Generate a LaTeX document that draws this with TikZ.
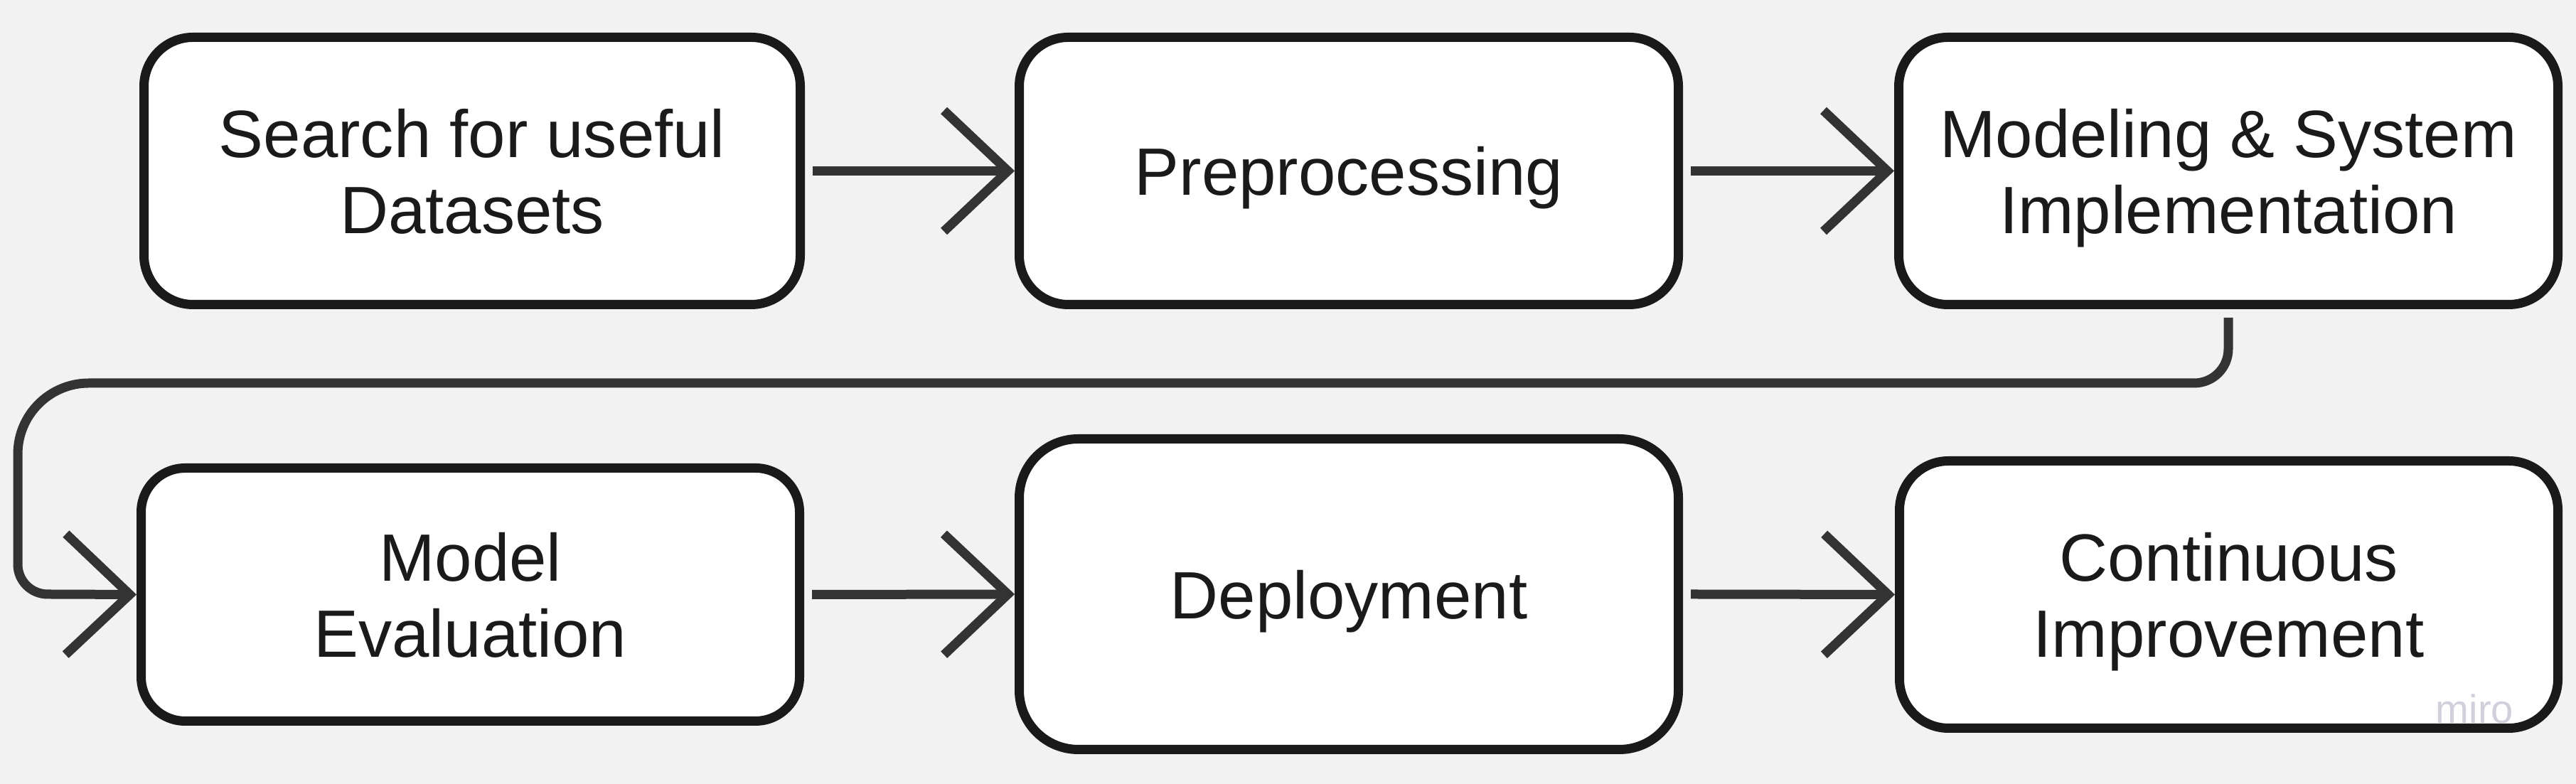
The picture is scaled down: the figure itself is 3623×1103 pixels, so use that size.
\documentclass[tikz,border=0pt]{standalone}
\usepackage{fontspec}
\setmainfont{Liberation Sans}
\usetikzlibrary{arrows.meta}
\definecolor{bgc}{HTML}{F2F2F2}
\definecolor{boxc}{HTML}{1A1A1A}
\definecolor{connc}{HTML}{333333}
\definecolor{txtc}{HTML}{1A1A1A}
\definecolor{miroc}{HTML}{D0D0DC}
\begin{document}
\begin{tikzpicture}[x=0.1mm,y=0.1mm,
  box/.style={draw=boxc, line width=1.3mm, fill=white, rounded corners=6.9mm,
    align=center, text=txtc, inner sep=0pt, text depth=0pt,
    font=\fontsize{26.8pt}{30.4pt}\selectfont},
  conn/.style={draw=connc, line width=1.3mm,
    -{Straight Barb[sharp, length=9mm, width=17mm]}}]
\fill[bgc] (0,0) rectangle (3623,1103);
\useasboundingbox (0,0) rectangle (3623,1103);
% row 1
\node[box, minimum width=92.3mm, minimum height=37.6mm] (n1) at (664,862.5) {Search for useful\\Datasets};
\node[box, minimum width=92.7mm, minimum height=37.6mm] (n2) at (1897,862.5) {Preprocessing};
\node[box, minimum width=92.7mm, minimum height=37.6mm] (n3) at (3134,862.5) {Modeling \& System\\Implementation};
% row 2
\node[box, minimum width=92.6mm, minimum height=35.6mm, rounded corners=6.2mm] (n4) at (661.5,266.5) {Model\\Evaluation};
\node[box, minimum width=92.7mm, minimum height=43.7mm, rounded corners=8.3mm] (n5) at (1897,267) {Deployment};
\node[box, minimum width=92.6mm, minimum height=37.6mm] (n6) at (3134.5,266.5) {Continuous\\Improvement};
% connectors
\draw[conn] ([xshift=1.1mm]n1.east) -- (n2.west);
\draw[conn] ([xshift=1.1mm]n2.east) -- (n3.west);
\draw[conn] ([yshift=-1.2mm]n3.south) -- (3134,612)
  arc[start angle=0, end angle=-90, radius=4.8mm] -- (125,564)
  arc[start angle=90, end angle=180, radius=10mm] -- (25,309)
  arc[start angle=180, end angle=270, radius=4.2mm] -- (n4.west);
\draw[conn] ([xshift=1.1mm]n4.east) -- (n5.west);
\draw[conn] ([xshift=1.1mm]n5.east) -- (n6.west);
% watermark
\node[anchor=base west, inner sep=0pt, text=miroc, font=\fontsize{16pt}{17pt}\selectfont] (miro) at (3425,85) {miro};
\end{tikzpicture}
\end{document}
